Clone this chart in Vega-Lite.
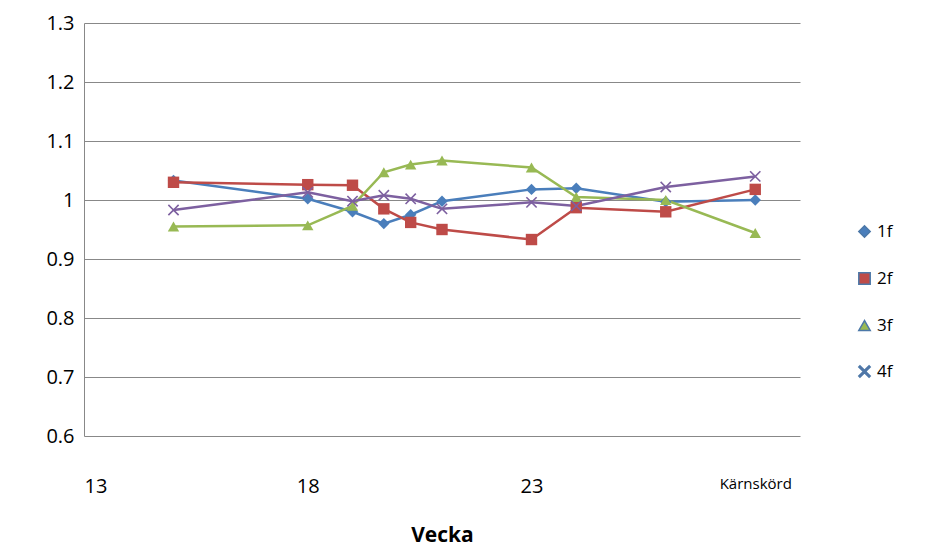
{
"$schema":"https://vega.github.io/schema/vega-lite/v6.json",
"width":716,"height":413,
"autosize":{"type":"none"},
"padding":{"left":84,"top":23,"right":141,"bottom":122},
"background":"white",
"config":{"font":"Open Sans","view":{"stroke":null},"legend":{"title":null,"orient":"none","legendX":772,"legendY":200,"labelFontSize":17,"rowPadding":28,"symbolSize":130}},
"data":{"values":[
{"w":15,"s":"1f","v":1.033},{"w":18,"s":"1f","v":1.002},{"w":19,"s":"1f","v":0.98},{"w":19.7,"s":"1f","v":0.96},{"w":20.3,"s":"1f","v":0.975},{"w":21,"s":"1f","v":0.998},{"w":23,"s":"1f","v":1.018},{"w":24,"s":"1f","v":1.02},{"w":26,"s":"1f","v":0.997},{"w":28,"s":"1f","v":1.0},
{"w":15,"s":"2f","v":1.03},{"w":18,"s":"2f","v":1.026},{"w":19,"s":"2f","v":1.025},{"w":19.7,"s":"2f","v":0.985},{"w":20.3,"s":"2f","v":0.962},{"w":21,"s":"2f","v":0.95},{"w":23,"s":"2f","v":0.933},{"w":24,"s":"2f","v":0.987},{"w":26,"s":"2f","v":0.98},{"w":28,"s":"2f","v":1.018},
{"w":15,"s":"3f","v":0.955},{"w":18,"s":"3f","v":0.957},{"w":19,"s":"3f","v":0.99},{"w":19.7,"s":"3f","v":1.047},{"w":20.3,"s":"3f","v":1.06},{"w":21,"s":"3f","v":1.067},{"w":23,"s":"3f","v":1.055},{"w":24,"s":"3f","v":1.005},{"w":26,"s":"3f","v":1.0},{"w":28,"s":"3f","v":0.944},
{"w":15,"s":"4f","v":0.983},{"w":18,"s":"4f","v":1.013},{"w":19,"s":"4f","v":0.998},{"w":19.7,"s":"4f","v":1.008},{"w":20.3,"s":"4f","v":1.002},{"w":21,"s":"4f","v":0.985},{"w":23,"s":"4f","v":0.996},{"w":24,"s":"4f","v":0.99},{"w":26,"s":"4f","v":1.022},{"w":28,"s":"4f","v":1.04}
]},
"encoding":{
"x":{"field":"w","type":"quantitative","scale":{"domain":[13,29],"nice":false,"zero":false},
"axis":{"values":[13,18,23,28],"grid":false,"ticks":false,"domain":false,"labelExpr":"datum.value==28?'Kärnskörd':datum.label","labelFontSize":{"expr":"datum.value==28?15:20"},"labelPadding":40,"labelColor":"#000","title":"Vecka","titleFontSize":21,"titleFontWeight":"bold","titlePadding":28,"titleColor":"#000"}},
"y":{"field":"v","type":"quantitative","scale":{"domain":[0.6,1.3],"nice":false,"zero":false},
"axis":{"values":[0.6,0.7,0.8,0.9,1,1.1,1.2,1.3],"gridColor":"#888","ticks":false,"domain":true,"domainColor":"#888","labelFontSize":20,"labelColor":"#000","labelPadding":10,"title":null,"labelExpr":"datum.value==1?'1':format(datum.value,'.1f')"}}
},
"resolve":{"legend":{"stroke":"independent"}},
"layer":[
{"mark":{"type":"line","strokeWidth":2.5},
"encoding":{"stroke":{"field":"s","type":"nominal","scale":{"range":["#4A7EBB","#BE4B48","#98B954","#7D60A0"]},"legend":null}}},
{"mark":{"type":"point","size":130,"opacity":1,"strokeWidth":0},
"encoding":{
"fill":{"field":"s","type":"nominal","scale":{"range":["#4A7EBB","#BE4B48","#98B954","#7D60A0"]}},
"shape":{"field":"s","type":"nominal","scale":{"range":["diamond","square","triangle-up","M-1,-0.8L-0.8,-1L0,-0.2L0.8,-1L1,-0.8L0.2,0L1,0.8L0.8,1L0,0.2L-0.8,1L-1,0.8L-0.2,0Z"]}}}}
]
}
